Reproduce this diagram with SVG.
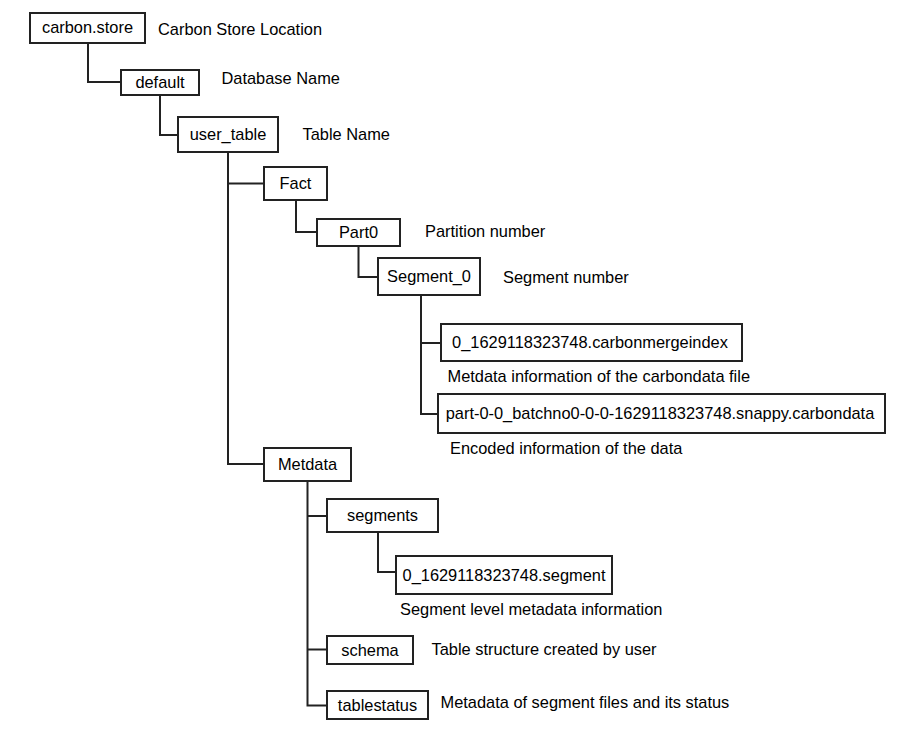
<svg xmlns="http://www.w3.org/2000/svg" width="907" height="736" viewBox="0 0 907 736">
<style>
.box{fill:#fff;stroke:#222;stroke-width:2}
.t{font-family:"Liberation Sans",Arial,sans-serif;font-size:16.4px;fill:#000}
.c{text-anchor:middle}
.ln{fill:none;stroke:#222;stroke-width:2}
</style>
<rect width="907" height="736" fill="#fff"/>
<g id="connectors">
<polyline class="ln" points="88,43 88,82 121,82"/>
<polyline class="ln" points="160,95 160,135 178,135"/>
<polyline class="ln" points="228,152 228,464 264,464"/>
<polyline class="ln" points="228,183.5 264,183.5"/>
<polyline class="ln" points="296,200 296,232 317,232"/>
<polyline class="ln" points="358.5,246 358.5,277 378,277"/>
<polyline class="ln" points="421,295 421,414 438,414"/>
<polyline class="ln" points="421,343 441,343"/>
<polyline class="ln" points="307.5,481 307.5,705.5 327,705.5"/>
<polyline class="ln" points="307.5,516 327,516"/>
<polyline class="ln" points="307.5,649.5 327,649.5"/>
<polyline class="ln" points="378,532 378,572 396,572"/>
</g>
<g id="carbon_store"><rect class="box" x="30" y="13" width="115" height="30"/><text class="t c" x="87.5" y="33">carbon.store</text><text class="t" x="158" y="35">Carbon Store Location</text></g>
<g id="default"><rect class="box" x="121" y="70" width="78" height="25"/><text class="t c" x="160" y="88">default</text><text class="t" x="221.5" y="84">Database Name</text></g>
<g id="user_table"><rect class="box" x="178" y="117" width="100" height="35"/><text class="t c" x="228" y="140">user_table</text><text class="t" x="302.5" y="140">Table Name</text></g>
<g id="fact"><rect class="box" x="264" y="167" width="63" height="33"/><text class="t c" x="295.5" y="189">Fact</text></g>
<g id="part0"><rect class="box" x="317" y="219" width="83" height="27"/><text class="t c" x="358.5" y="238">Part0</text><text class="t" x="425" y="237">Partition number</text></g>
<g id="segment_0"><rect class="box" x="378" y="258" width="102" height="37"/><text class="t c" x="429" y="282">Segment_0</text><text class="t" x="503" y="283">Segment number</text></g>
<g id="mergeindex"><rect class="box" x="441" y="324" width="301" height="37"/><text class="t c" x="590" y="348">0_1629118323748.carbonmergeindex</text><text class="t" x="447.5" y="382">Metdata information of the carbondata file</text></g>
<g id="carbondata"><rect class="box" x="438" y="394" width="447" height="39"/><text class="t c" x="660" y="419">part-0-0_batchno0-0-0-1629118323748.snappy.carbondata</text><text class="t" x="450" y="454">Encoded information of the data</text></g>
<g id="metdata"><rect class="box" x="264" y="448" width="87" height="33"/><text class="t c" x="307.5" y="470">Metdata</text></g>
<g id="segments"><rect class="box" x="327" y="499" width="111" height="33"/><text class="t c" x="382.5" y="521">segments</text></g>
<g id="segment_file"><rect class="box" x="396" y="556" width="216" height="38"/><text class="t c" x="504" y="580.5">0_1629118323748.segment</text><text class="t" x="400" y="615">Segment level metadata information</text></g>
<g id="schema"><rect class="box" x="327" y="636" width="86" height="28"/><text class="t c" x="370" y="655.5">schema</text><text class="t" x="431.5" y="655">Table structure created by user</text></g>
<g id="tablestatus"><rect class="box" x="327" y="691" width="101" height="28"/><text class="t c" x="377.5" y="710.5">tablestatus</text><text class="t" x="440.5" y="708">Metadata of segment files and its status</text></g>
</svg>
